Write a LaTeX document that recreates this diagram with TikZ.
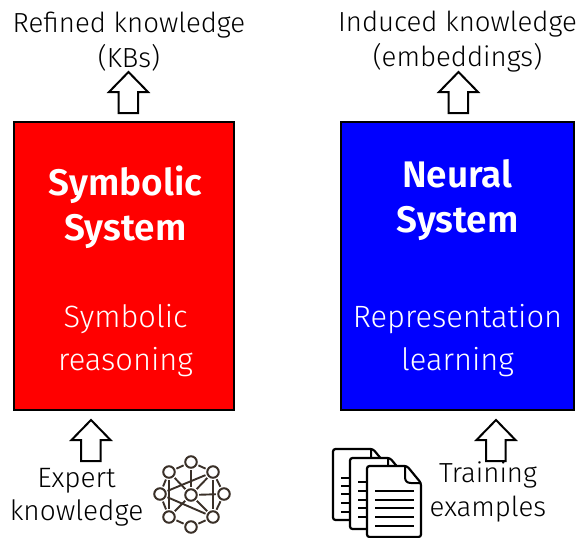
\documentclass[tikz,border=0pt]{standalone}
\usepackage{fontspec}
\setmainfont{Fira Sans}[UprightFont=* Light,BoldFont=* SemiBold]
\begin{document}
\begin{tikzpicture}[x=1pt,y=-1pt,
  sysbox/.style={draw=black,line width=2pt,inner sep=0pt,anchor=north west},
  captxt/.style={align=center,font=\fontsize{27.6}{35}\selectfont,text=black,inner sep=0pt},
  titletxt/.style={align=center,font=\fontsize{37}{45}\selectfont\bfseries,text=white,inner sep=0pt},
  subtxt/.style={align=center,font=\fontsize{30.8}{43}\selectfont,text=white,inner sep=0pt},
  uparrow/.style={draw=black,line width=2pt,fill=white,line join=miter},
  netedge/.style={draw=netc,line width=1.9pt,shorten >=1.4pt,shorten <=1.4pt},
  netnode/.style={circle,draw=netc,line width=2pt,fill=white,minimum size=11.5pt,inner sep=0pt},
  docsheet/.style={draw=black,line width=2.2pt,fill=white,rounded corners=2.5pt},
  docrule/.style={draw=black,line width=1.7pt}]
\definecolor{netc}{HTML}{3A3028}
\useasboundingbox (0,0) rectangle (576,538);
\newcommand{\uparr}[2]{\draw[uparrow] (#1,#2) -- ++(19.5,20) -- ++(-10,0) -- ++(0,21) -- ++(-19.5,0) -- ++(0,-21) -- ++(-9.5,0) -- cycle;}
\node[sysbox,fill=red,minimum width=220pt,minimum height=288pt] (sym) at (13,121) {};
\node[sysbox,fill=blue,minimum width=233pt,minimum height=288pt] (neu) at (340,121) {};
\node[titletxt] (symt) at (125.5,207) {Symbolic\\System};
\node[titletxt] (neut) at (457.5,200.5) {Neural\\System};
\node[subtxt] (symd) at (125.5,341) {Symbolic\\reasoning};
\node[subtxt] (neud) at (457.5,341) {Representation\\learning};
\node[captxt] (refk) at (129,41.5) {Refined knowledge\\(KBs)};
\node[captxt] (indk) at (457.5,41.5) {Induced knowledge\\(embeddings)};
\node[captxt,font=\fontsize{28}{33}\selectfont] (expk) at (76.5,497.5) {Expert\\knowledge};
\node[captxt,font=\fontsize{27.6}{34}\selectfont] (train) at (488,492) {Training\\examples};
\uparr{128.5}{72}
\uparr{458.5}{72}
\uparr{91}{420}
\uparr{496}{420}
% network icon
\foreach \n/\x/\y in {t/191/462,ul/169/472,ur/213/472,l/160/494,c/191/495,r/224/494,ll/169/517,lr/213/517,b/191/527}
  \node[netnode] (n\n) at (\x,\y) {};
\foreach \a/\b in {t/ul,t/ur,t/c,ul/l,ul/c,ul/ll,ur/r,ur/lr,ur/c,l/ll,r/lr,ll/b,lr/b,c/r,l/ur,c/ll,c/lr,l/lr}
  \draw[netedge] (n\a) -- (n\b);
% document icon
\newcommand{\docpage}[2]{%
  \draw[docsheet] (#1+40,#2) -- (#1,#2) -- (#1,#2+71) -- (#1+54,#2+71) -- (#1+54,#2+17) -- cycle;
  \draw[draw=black,line width=2pt,line join=round] (#1+38,#2) -- (#1+38,#2+11) .. controls (#1+38,#2+15) and (#1+40,#2+17) .. (#1+44,#2+17) -- (#1+54,#2+17);}
\docpage{333}{449}
\foreach \y in {478,486,494,503,512} \draw[docrule] (341,\y) -- (352,\y);
\docpage{350}{458}
\foreach \y in {482,491,500,508,517} \draw[docrule] (358,\y) -- (369,\y);
\docpage{367}{466}
\foreach \y in {491,500,508,517,526} \draw[docrule] (375,\y) -- (414,\y);
\end{tikzpicture}
\end{document}
